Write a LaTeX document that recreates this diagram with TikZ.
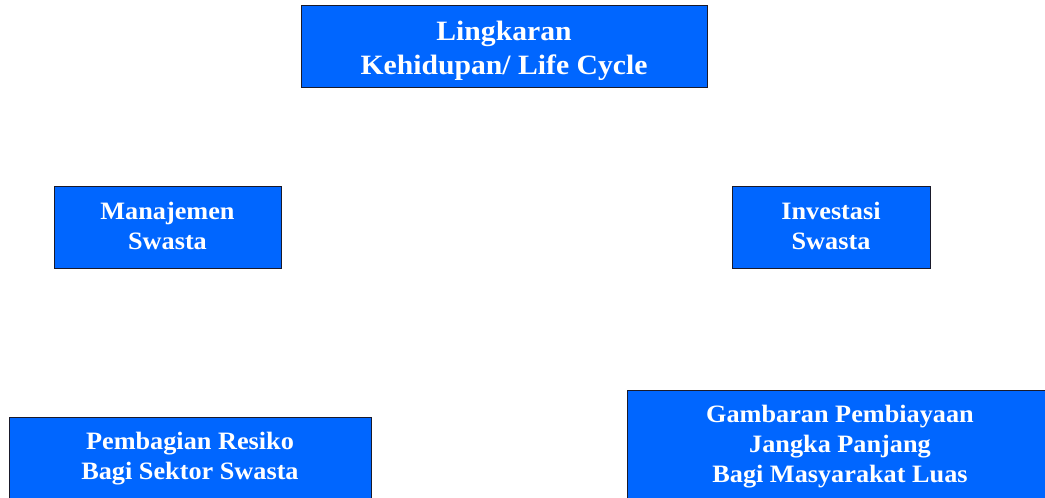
\documentclass[tikz,border=0pt]{standalone}
\usepackage{fontspec}
\setmainfont{Liberation Serif}
\newfontfamily\boxfont[FakeStretch=1.05]{Liberation Serif}
\newfontfamily\topfont[FakeStretch=1.06]{Liberation Serif}
\definecolor{boxblue}{HTML}{0066FF}
\definecolor{boxline}{HTML}{1A1A2A}
\tikzset{
  bluebox/.style={draw=boxline, line width=0.8pt, fill=boxblue, inner sep=0pt, outer sep=0pt},
  boxtext/.style={text=white, font=\boxfont\fontsize{25}{30}\selectfont\bfseries, align=center, inner sep=0pt},
  toptextstyle/.style={text=white, font=\topfont\fontsize{28}{34}\selectfont\bfseries, align=center, inner sep=0pt}
}
\begin{document}
\begin{tikzpicture}[x=1pt,y=1pt]
\useasboundingbox (0,0) rectangle (1045,498);
\clip (0,0) rectangle (1045,498);
% top
\node[bluebox, minimum width=406pt, minimum height=82pt] (top) at (504,452) {};
\node[toptextstyle] (toptext) at (504,447) {Lingkaran\\Kehidupan/ Life Cycle};
% left
\node[bluebox, minimum width=227pt, minimum height=82pt] (left) at (167.5,271) {};
\node[boxtext] (lefttext) at (167.5,272) {Manajemen\\Swasta};
% right
\node[bluebox, minimum width=198pt, minimum height=82pt] (right) at (831,271) {};
\node[boxtext] (righttext) at (831,272) {Investasi\\Swasta};
% bottom left
\node[bluebox, minimum width=362pt, minimum height=120pt] (bl) at (190,21) {};
\node[boxtext] (bltext) at (190,39) {Pembagian Resiko\\Bagi Sektor Swasta};
% bottom right
\node[bluebox, minimum width=430pt, minimum height=140pt] (br) at (842,38) {};
\node[boxtext] (brtext) at (840,51) {Gambaran Pembiayaan\\Jangka Panjang\\Bagi Masyarakat Luas};
\end{tikzpicture}
\end{document}
